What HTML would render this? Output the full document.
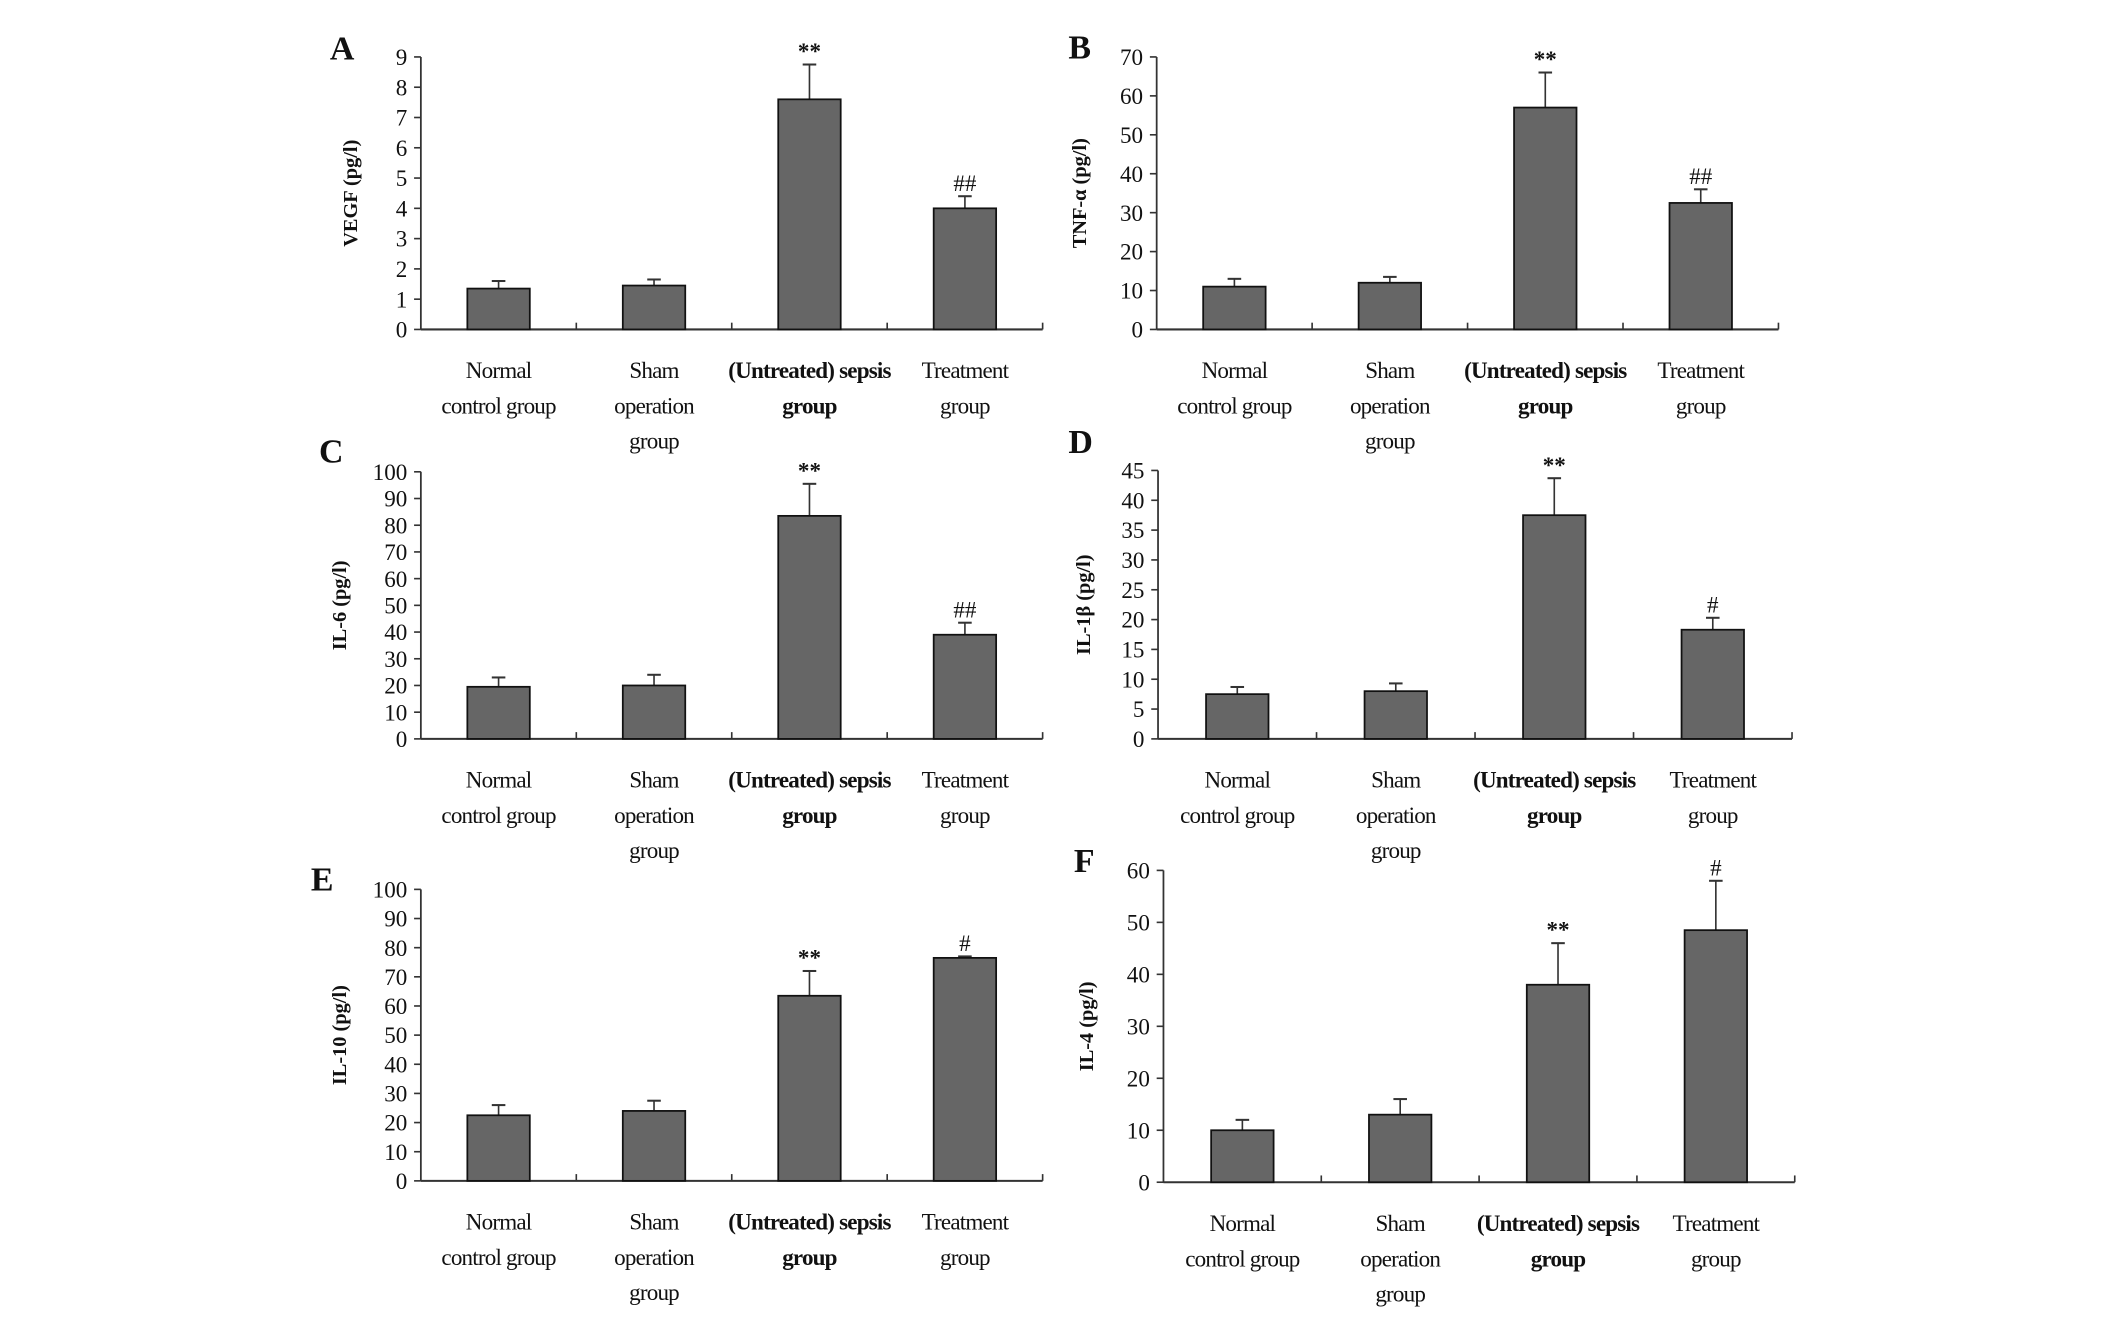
<!DOCTYPE html>
<html><head><meta charset="utf-8"><style>
html,body{margin:0;padding:0;background:#fff}
svg{display:block}
text{font-family:"Liberation Serif",serif;fill:#111}
</style></head><body>
<svg id="fig" width="2126" height="1330" viewBox="0 0 1566 981" preserveAspectRatio="none" xmlns="http://www.w3.org/2000/svg"></svg>
<script>
const categories = ["Normal control group","Sham operation group","(Untreated) sepsis group","Treatment group"];
const vegfValues = [1.35, 1.45, 7.6, 4.0];
const vegfErrors = [0.25, 0.2, 1.15, 0.4];
const tnfValues = [11, 12, 57, 32.5];
const tnfErrors = [2, 1.5, 9, 3.5];
const il6Values = [19.5, 20, 83.5, 39];
const il6Errors = [3.5, 4, 12, 4.5];
const il1bValues = [7.5, 8, 37.5, 18.3];
const il1bErrors = [1.2, 1.3, 6.2, 2];
const il10Values = [22.5, 24, 63.5, 76.5];
const il10Errors = [3.5, 3.5, 8.5, 0.5];
const il4Values = [10, 13, 38, 48.5];
const il4Errors = [2, 3, 8, 9.5];
const vegfTicks = [0,1,2,3,4,5,6,7,8,9];
const tnfTicks = [0,10,20,30,40,50,60,70];
const il6Ticks = [0,10,20,30,40,50,60,70,80,90,100];
const il1bTicks = [0,5,10,15,20,25,30,35,40,45];
const il10Ticks = [0,10,20,30,40,50,60,70,80,90,100];
const il4Ticks = [0,10,20,30,40,50,60];
const vegfMarks = ["","","**","##"];
const tnfMarks = ["","","**","##"];
const il6Marks = ["","","**","##"];
const il1bMarks = ["","","**","#"];
const il10Marks = ["","","**","#"];
const il4Marks = ["","","**","#"];

const NS="http://www.w3.org/2000/svg";
const svg=document.getElementById('fig');
function mk(tag,attrs,parent){const e=document.createElementNS(NS,tag);for(const k in attrs)e.setAttribute(k,attrs[k]);(parent||svg).appendChild(e);return e;}

const panels=[
 {id:'a',letter:'A',lx:243,ly:44,x0:310,x1:768,y0:243,y1:42,title:'VEGF (pg/l)',ticks:vegfTicks,vals:vegfValues,errs:vegfErrors,marks:vegfMarks,tx:263},
 {id:'b',letter:'B',lx:787,ly:43,x0:852,x1:1310,y0:243,y1:42,title:'TNF-\u03b1 (pg/l)',ticks:tnfTicks,vals:tnfValues,errs:tnfErrors,marks:tnfMarks,tx:800},
 {id:'c',letter:'C',lx:235,ly:341,x0:310,x1:768,y0:545,y1:348,title:'IL-6 (pg/l)',ticks:il6Ticks,vals:il6Values,errs:il6Errors,marks:il6Marks,tx:255},
 {id:'d',letter:'D',lx:787,ly:334,x0:853,x1:1320,y0:545,y1:347,title:'IL-1\u03b2 (pg/l)',ticks:il1bTicks,vals:il1bValues,errs:il1bErrors,marks:il1bMarks,tx:803},
 {id:'e',letter:'E',lx:229,ly:657,x0:310,x1:768,y0:871,y1:656,title:'IL-10 (pg/l)',ticks:il10Ticks,vals:il10Values,errs:il10Errors,marks:il10Marks,tx:255},
 {id:'f',letter:'F',lx:791,ly:643,x0:857,x1:1322,y0:872,y1:642,title:'IL-4 (pg/l)',ticks:il4Ticks,vals:il4Values,errs:il4Errors,marks:il4Marks,tx:805}
];
const labelLines=[["Normal","control group"],["Sham","operation","group"],["(Untreated) sepsis","group"],["Treatment","group"]];

panels.forEach(p=>{
  const g=mk('g',{});
  
  
  const L=mk('text',{x:p.lx,y:p.ly,'font-size':25,'font-weight':'bold'},g);L.textContent=p.letter;
  
  const max=p.ticks[p.ticks.length-1];
  const ys=v=>p.y0-(v/max)*(p.y0-p.y1);
  const n=categories.length, band=(p.x1-p.x0)/n;
  const xc=i=>p.x0+band*(i+0.5);
  const ya=mk('line',{x1:p.x0,y1:p.y1,x2:p.x0,y2:p.y0,stroke:'#333','stroke-width':1.3},g);
  
  const xa=mk('line',{x1:p.x0,y1:p.y0,x2:p.x1,y2:p.y0,stroke:'#333','stroke-width':1.5},g);
  
  for(let i=1;i<=n;i++){mk('line',{x1:p.x0+band*i,y1:p.y0,x2:p.x0+band*i,y2:p.y0-5,stroke:'#333','stroke-width':1.2},g);}
  p.ticks.forEach(t=>{
    const y=ys(t);
    mk('line',{x1:p.x0-5,y1:y,x2:p.x0,y2:y,stroke:'#333','stroke-width':1.2},g);
    const tl=mk('text',{x:p.x0-10,y:y+6,'font-size':17,'text-anchor':'end'},g);tl.textContent=t;
    
  });
  const cy=(p.y0+p.y1)/2;
  const yt=mk('text',{x:p.tx,y:cy,'font-size':15,'font-weight':'bold','text-anchor':'middle',transform:`rotate(-90 ${p.tx} ${cy})`},g);
  yt.textContent=p.title;
  
  const bw=46;
  p.vals.forEach((v,i)=>{
    const x=xc(i), top=ys(v), et=ys(v+p.errs[i]);
    mk('line',{x1:x,y1:top,x2:x,y2:et,stroke:'#333','stroke-width':1.2},g);
    mk('line',{x1:x-5,y1:et,x2:x+5,y2:et,stroke:'#333','stroke-width':1.5},g);
    const r=mk('rect',{x:x-bw/2,y:top,width:bw,height:p.y0-top,fill:'#666',stroke:'#111','stroke-width':1.3},g);
    
    if(p.marks[i]){
      const m=mk('text',{x:x,y:et-4,'font-size':17,'text-anchor':'middle','font-weight':p.marks[i]==='**'?'bold':'normal'},g);
      m.textContent=p.marks[i];
      
    }
    labelLines[i].forEach((ln,k)=>{
      const t=mk('text',{x:x,y:p.y0+36+k*26,'font-size':17,'text-anchor':'middle','letter-spacing':-0.6,'font-weight':i===2?'bold':'normal'},g);
      t.textContent=ln;
      
    });
  });
});
</script>
</body></html>
